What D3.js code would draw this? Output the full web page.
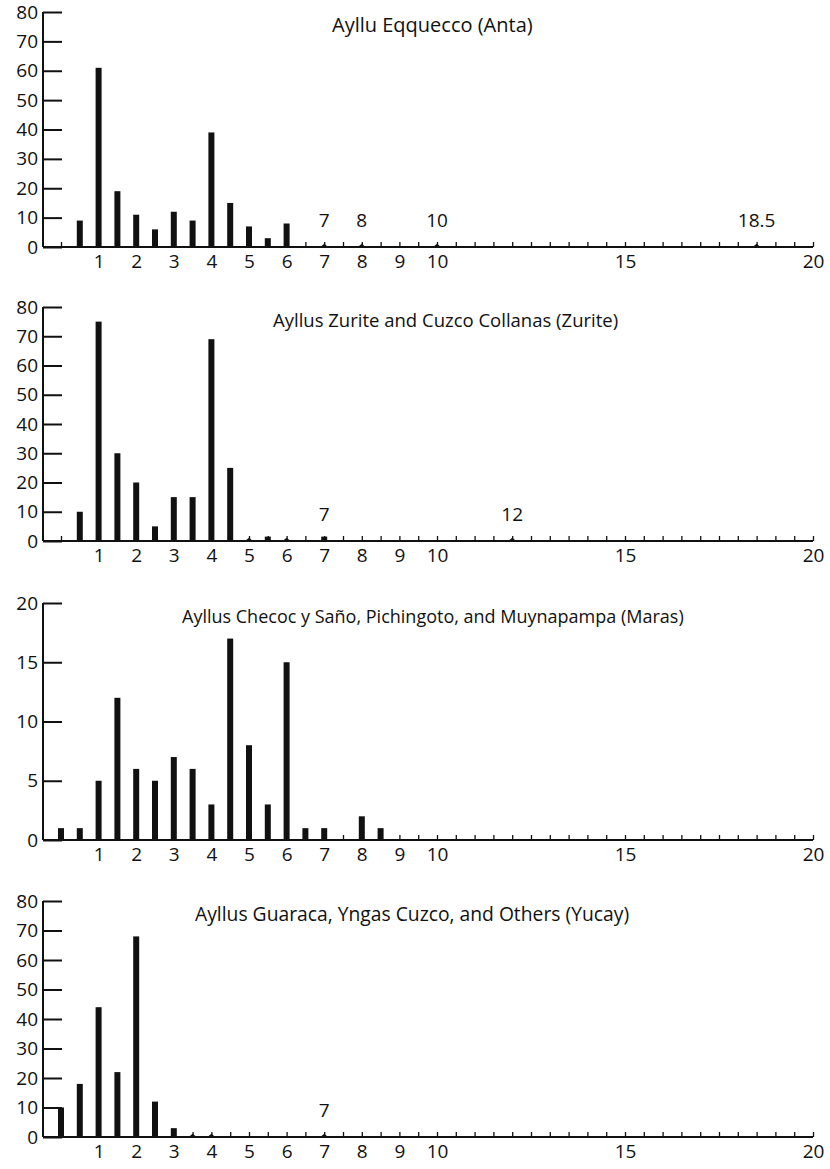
<!DOCTYPE html>
<html>
<head>
<meta charset="utf-8">
<script src="https://cdn.jsdelivr.net/npm/d3@7"></script>
<style>
  html, body { margin: 0; padding: 0; background: #fff; }
  svg { display: block; font-family: "Open Sans", "Noto Sans", sans-serif; }
</style>
</head>
<body>
<svg id="chart" width="830" height="1169"></svg>
<script>
// ---- Data ----
const titles = [
  "Ayllu Eqquecco (Anta)",
  "Ayllus Zurite and Cuzco Collanas (Zurite)",
  "Ayllus Checoc y Saño, Pichingoto, and Muynapampa (Maras)",
  "Ayllus Guaraca, Yngas Cuzco, and Others (Yucay)"
];

const binsAnta   = [0.5, 1, 1.5, 2, 2.5, 3, 3.5, 4, 4.5, 5, 5.5, 6, 7, 8, 10, 18.5];
const countsAnta = [9, 61, 19, 11, 6, 12, 9, 39, 15, 7, 3, 8, 0.5, 0.5, 0.5, 0.5];
const notesAnta  = [7, 8, 10, 18.5];

const binsZurite   = [0.5, 1, 1.5, 2, 2.5, 3, 3.5, 4, 4.5, 5, 5.5, 6, 7, 12];
const countsZurite = [10, 75, 30, 20, 5, 15, 15, 69, 25, 0.5, 1.5, 0.5, 1.5, 0.5];
const notesZurite  = [7, 12];

const binsMaras   = [0, 0.5, 1, 1.5, 2, 2.5, 3, 3.5, 4, 4.5, 5, 5.5, 6, 6.5, 7, 8, 8.5];
const countsMaras = [1, 1, 5, 12, 6, 5, 7, 6, 3, 17, 8, 3, 15, 1, 1, 2, 1];
const notesMaras  = [];

const binsYucay   = [0, 0.5, 1, 1.5, 2, 2.5, 3, 3.5, 4, 7];
const countsYucay = [10, 18, 44, 22, 68, 12, 3, 0.5, 0.5, 0.5];
const notesYucay  = [7];

const yMaxes = [80, 80, 20, 80];
const yTickSteps = [10, 10, 5, 10];
const xTickLabels = [1, 2, 3, 4, 5, 6, 7, 8, 9, 10, 15, 20];
const xMinorStep = 0.5;
const xMax = 20;

// ---- Layout ----
const panels = [
  { bins: binsAnta,   counts: countsAnta,   notes: notesAnta,   top: 12,  bottom: 247,  titleX: 332, titleSize: 20 },
  { bins: binsZurite, counts: countsZurite, notes: notesZurite, top: 307, bottom: 541,  titleX: 273, titleSize: 18.5 },
  { bins: binsMaras,  counts: countsMaras,  notes: notesMaras,  top: 603, bottom: 840,  titleX: 182, titleSize: 18 },
  { bins: binsYucay,  counts: countsYucay,  notes: notesYucay,  top: 901, bottom: 1137, titleX: 195, titleSize: 19.3 }
];

const axisX0 = 43;      // y-axis line position
const xStart = 61;      // x-value 0
const xEnd = 813;       // x-value 20
const barW = 6;
const tickFont = 19;
const ink = "#111";

const svg = d3.select("#chart");
const x = d3.scaleLinear().domain([0, xMax]).range([xStart, xEnd]);

panels.forEach((p, i) => {
  const g = svg.append("g");
  const y = d3.scaleLinear().domain([0, yMaxes[i]]).range([p.bottom, p.top]);

  // bars (values below 1 appear as tiny triangular marks in the source)
  const data = p.bins.map((b, k) => ({ b, c: p.counts[k] }));
  g.selectAll("rect.bar").data(data.filter(d => d.c >= 1)).enter().append("rect")
    .attr("class", "bar")
    .attr("x", d => x(d.b) - barW / 2)
    .attr("width", barW)
    .attr("y", d => y(d.c))
    .attr("height", d => y(0) - y(d.c))
    .attr("fill", ink);
  g.selectAll("path.tiny").data(data.filter(d => d.c < 1)).enter().append("path")
    .attr("class", "tiny")
    .attr("d", d => {
      const cx = x(d.b), by = y(0), ty = y(d.c * 2.2);
      return `M${cx - 4},${by}L${cx},${ty}L${cx + 4},${by}Z`;
    })
    .attr("fill", ink);

  // y axis
  const yTicks = d3.range(0, yMaxes[i] + 0.001, yTickSteps[i]);
  const yAxis = d3.axisLeft(y).tickValues(yTicks).tickSize(-19).tickPadding(5).tickFormat(d3.format("d"));
  const ya = g.append("g").attr("transform", `translate(${axisX0},0)`).call(yAxis);
  ya.select(".domain").attr("d", `M0,${p.top}V${p.bottom}`).attr("stroke", ink).attr("stroke-width", 2);
  ya.selectAll(".tick line").attr("stroke", ink).attr("stroke-width", 2);
  ya.selectAll(".tick text").attr("font-size", tickFont).attr("fill", ink)
    .attr("font-family", "Open Sans, sans-serif");

  // x axis minor ticks
  const minor = d3.range(0, xMax + 0.001, xMinorStep);
  const xMinorAxis = d3.axisBottom(x).tickValues(minor).tickSize(-5).tickFormat("");
  const xa = g.append("g").attr("transform", `translate(0,${p.bottom})`).call(xMinorAxis);
  xa.select(".domain").attr("d", `M${axisX0},0H${xEnd}`).attr("stroke", ink).attr("stroke-width", 2);
  xa.selectAll(".tick line").attr("stroke", ink).attr("stroke-width", 1.3);

  // x axis labels
  const xLabelAxis = d3.axisBottom(x).tickValues(xTickLabels).tickSize(0).tickPadding(8).tickFormat(d3.format("d"));
  const xl = g.append("g").attr("transform", `translate(0,${p.bottom})`).call(xLabelAxis);
  xl.select(".domain").remove();
  xl.selectAll(".tick text").attr("font-size", tickFont).attr("fill", ink)
    .attr("font-family", "Open Sans, sans-serif");

  // annotations over tiny bars
  g.selectAll("text.note").data(p.notes).enter().append("text")
    .attr("class", "note")
    .attr("x", d => x(d))
    .attr("y", p.bottom - 20)
    .attr("text-anchor", "middle")
    .attr("font-size", tickFont)
    .attr("fill", ink)
    .text(d => d);

  // title
  g.append("text")
    .attr("x", p.titleX)
    .attr("y", p.top + 20)
    .attr("text-anchor", "start")
    .attr("font-size", p.titleSize)
    .attr("fill", ink)
    .text(titles[i]);
});
</script>
</body>
</html>
